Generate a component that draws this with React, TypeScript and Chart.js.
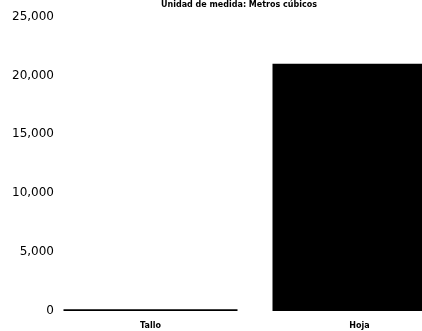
import React, { useEffect, useRef } from "react";
import { Chart, registerables } from "chart.js";

Chart.register(...registerables);

const titleText = "Unidad de medida: Metros cúbicos";
const categories = ["Tallo", "Hoja"];
const values = [150, 21000];
const yMax = 25000;
const yStep = 5000;

export default function App() {
  const ref = useRef<HTMLCanvasElement | null>(null);
  useEffect(() => {
    if (!ref.current) return;
    const chart = new Chart(ref.current, {
      type: "bar",
      data: {
        labels: categories,
        datasets: [
          {
            data: values,
            backgroundColor: "#000000",
            borderWidth: 0,
            categoryPercentage: 0.9,
            barPercentage: 0.925,
          },
        ],
      },
      options: {
        responsive: false,
        animation: false,
        layout: { padding: { top: 0, bottom: 0, left: 14, right: 0 } },
        plugins: {
          legend: { display: false },
          tooltip: { enabled: false },
          title: {
            display: true,
            text: titleText,
            color: "#000",
            font: { family: "DejaVu Sans", size: 8, weight: "bold" },
            padding: { top: 0, bottom: 7 },
          },
        },
        scales: {
          x: {
            grid: { display: false, drawTicks: false },
            border: { display: false },
            afterFit: (s: any) => {
              s.height = 20;
            },
            ticks: {
              color: "#000",
              padding: 10,
              font: { family: "DejaVu Sans", size: 8, weight: "bold" },
            },
          },
          y: {
            min: 0,
            max: yMax,
            grid: { display: false, drawTicks: false },
            border: { display: false },
            afterFit: (s: any) => {
              s.width = 32;
            },
            afterUpdate: (s: any) => {
              s._computeLabelArea = () => undefined;
            },
            ticks: {
              stepSize: yStep,
              color: "#000",
              padding: -8,
              font: { family: "DejaVu Sans", size: 12 },
            },
          },
        },
      },
    });
    return () => chart.destroy();
  }, []);
  return (
    <div
      style={{
        position: "absolute",
        left: 0,
        top: 0,
        width: 422,
        height: 331,
        overflow: "hidden",
        background: "#fff",
      }}
    >
      <canvas ref={ref} width={464} height={331} style={{ display: "block" }} />
    </div>
  );
}
